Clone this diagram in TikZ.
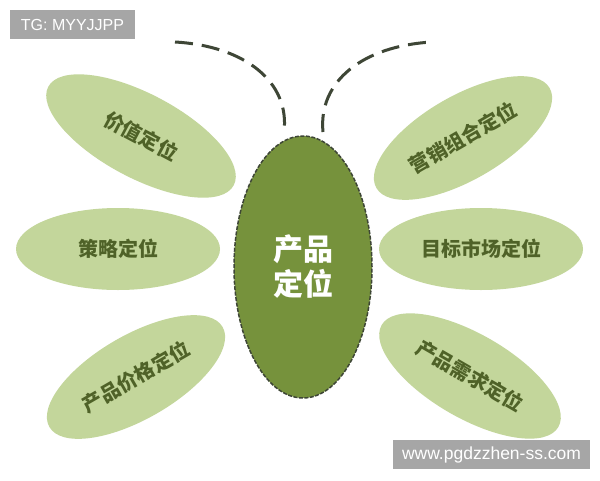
\documentclass[tikz,border=0pt]{standalone}
\usepackage{fontspec}
\newfontfamily\cjk{Noto Sans CJK SC}
\setmainfont{Liberation Sans}
\usetikzlibrary{shapes.geometric}
\definecolor{petal}{HTML}{C3D69B}
\definecolor{core}{HTML}{76923C}
\definecolor{deep}{HTML}{4F6228}
\definecolor{antenna}{HTML}{3E4636}
\definecolor{tag}{HTML}{A6A6A6}
\tikzset{
  petalbox/.style={ellipse, fill=petal, inner sep=0pt, text=deep,
    font=\cjk\bfseries\fontsize{20}{22}\selectfont},
  corebox/.style={ellipse, fill=core, draw=antenna, line width=1.5pt,
    dash pattern=on 4pt off 1.5pt, inner sep=0pt, text=white, align=center,
    font=\cjk\bfseries\fontsize{30}{35}\selectfont},
  feeler/.style={draw=antenna, line width=3pt, dash pattern=on 18pt off 9pt},
  tagbox/.style={fill=tag, text=white, inner sep=0pt}
}
\begin{document}
\begin{tikzpicture}[x=1pt,y=-1pt]
\useasboundingbox (0,0) rectangle (600,480);
\fill[white] (0,0) rectangle (600,480);
% petals
\node[petalbox, minimum width=210pt, minimum height=84pt, rotate=-28] (value) at (141,136) {价值定位};
\node[petalbox, minimum width=204pt, minimum height=82pt] (strategy) at (118,249) {策略定位};
\node[petalbox, minimum width=200pt, minimum height=84pt, rotate=30] (price) at (136,377) {产品价格定位};
\node[petalbox, minimum width=200pt, minimum height=84pt, rotate=30] (mix) at (463,138) {营销组合定位};
\node[petalbox, minimum width=204pt, minimum height=82pt] (target) at (481,249) {目标市场定位};
\node[petalbox, minimum width=204pt, minimum height=84pt, rotate=-30] (demand) at (470,376) {产品需求定位};
% core
\node[corebox, minimum width=138pt, minimum height=262pt] (core) at (303,267) {产品\\定位};
% antennae
\coordinate (lbase) at (284,132);
\coordinate (ltip) at (175,42);
\coordinate (rbase) at (323,132);
\coordinate (rtip) at (432,42);
\draw[feeler] (ltip) .. controls (245,46) and (290,82) .. (lbase);
\draw[feeler] (rbase) .. controls (318,82) and (362,46) .. (rtip);
% tags
\node[tagbox, minimum width=125pt, minimum height=29pt, font=\fontsize{16}{18}\selectfont] (tg) at (72.5,24.5) {TG: MYYJJPP};
\node[tagbox, minimum width=197pt, minimum height=29pt, font=\fontsize{17.5}{19}\selectfont] (web) at (491.5,454.5) {www.pgdzzhen-ss.com};
\end{tikzpicture}
\end{document}
